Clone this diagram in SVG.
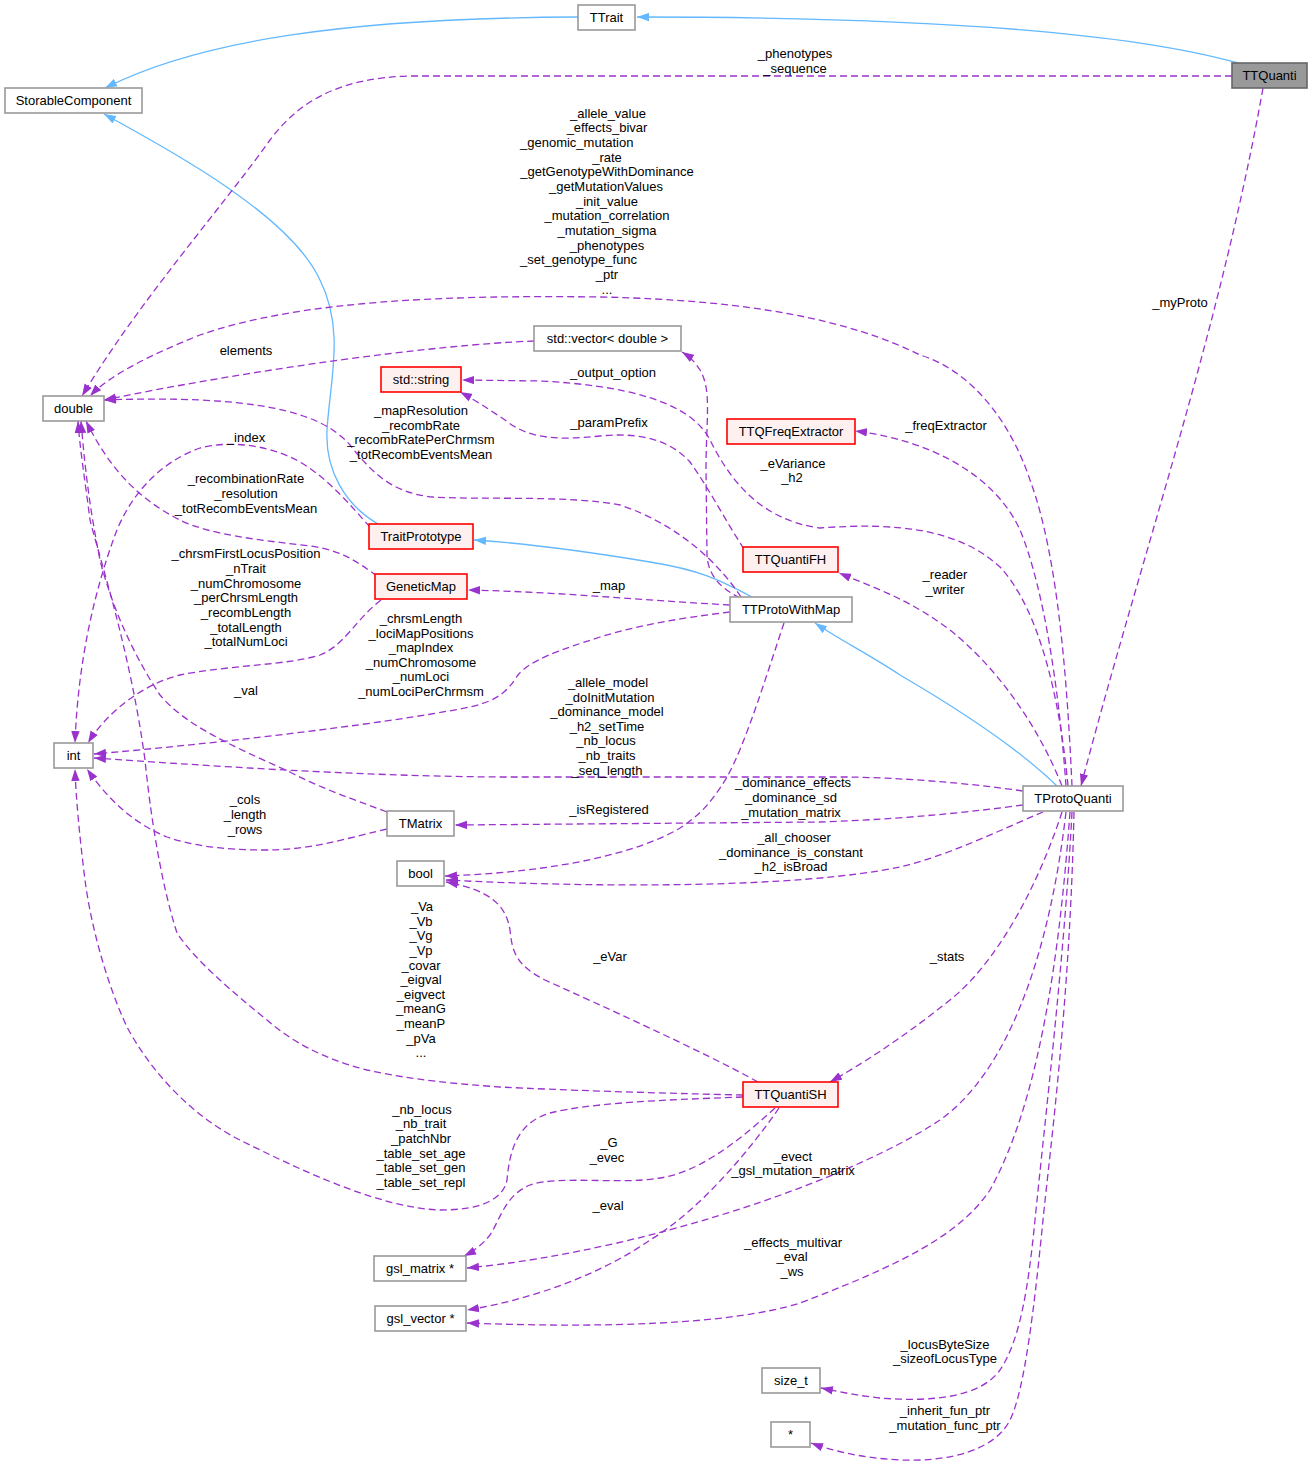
<svg xmlns="http://www.w3.org/2000/svg" width="1313" height="1467" viewBox="0 0 1313 1467">
<style>
  text { font-family: "Liberation Sans", Arial, sans-serif; font-size: 13px; fill: #000; }
  .node text, .lbl { text-anchor: middle; }
  .st { text-anchor: start; }
  .n rect { fill: #ffffff; stroke: #999999; stroke-width: 1.6; }
  .r rect { fill: #fff0f0; stroke: #ff0000; stroke-width: 1.6; }
  .g rect { fill: #999999; stroke: #666666; stroke-width: 1.6; }
  .e { fill: none; stroke: #9a32cd; stroke-width: 1.3; stroke-dasharray: 7,4; marker-end: url(#ap); }
  .b { fill: none; stroke: #63b8ff; stroke-width: 1.3; marker-end: url(#ab); }
</style>
<defs>
  <marker id="ap" viewBox="0 0 12 9" refX="12" refY="4.5" markerWidth="12" markerHeight="9" markerUnits="userSpaceOnUse" orient="auto">
    <path d="M0,0.3 L12,4.5 L0,8.7 z" fill="#9a32cd" stroke="none"/>
  </marker>
  <marker id="ab" viewBox="0 0 12 9" refX="12" refY="4.5" markerWidth="12" markerHeight="9" markerUnits="userSpaceOnUse" orient="auto">
    <path d="M0,0.3 L12,4.5 L0,8.7 z" fill="#63b8ff" stroke="none"/>
  </marker>
</defs>
<rect x="0" y="0" width="1313" height="1467" fill="#ffffff"/>

<g id="connectors">
  <!-- inheritance -->
  <path class="b" d="M1238,63 C1120,30 900,17 637,17"/>
  <path class="b" d="M578,17 C350,18 200,40 105,88"/>
  <path class="b" d="M378,524 C345,505 325,470 327,430 C330,380 345,330 320,280 C290,215 170,150 104,114"/>
  <path class="b" d="M752,597 C720,580 700,570 650,562 C590,552 520,543 474,540"/>
  <path class="b" d="M1057,786 C1020,750 960,710 900,675 C870,655 840,640 815,623"/>

  <g id="e_phen">
    <path class="e" d="M1232,76 L410,76 C340,78 300,100 270,140 C220,210 140,300 82,396"/>
    <text class="lbl" x="795" y="57.5">_phenotypes</text>
    <text class="lbl" x="795" y="72.5">_sequence</text>
  </g>
  <g id="e_myproto">
    <path class="e" d="M1263,88 C1220,330 1140,560 1081,786"/>
    <text class="lbl" x="1180" y="306.5">_myProto</text>
  </g>
  <g id="e_big">
    <path class="e" d="M1072,786 C1068,700 1060,560 1030,480 C1010,420 970,370 920,355 C850,320 750,300 600,297 C450,295 300,300 200,335 C150,355 110,375 90,396"/>
    <text class="lbl" x="608" y="117.5">_allele_value</text>
    <text class="lbl" x="607" y="132.2">_effects_bivar</text>
    <text class="st" x="520" y="146.8">_genomic_mutation</text>
    <text class="lbl" x="607" y="161.5">_rate</text>
    <text class="lbl" x="607" y="176.2">_getGenotypeWithDominance</text>
    <text class="lbl" x="606" y="190.8">_getMutationValues</text>
    <text class="lbl" x="607" y="205.5">_init_value</text>
    <text class="lbl" x="607" y="220.2">_mutation_correlation</text>
    <text class="lbl" x="607" y="234.8">_mutation_sigma</text>
    <text class="lbl" x="607" y="249.5">_phenotypes</text>
    <text class="st" x="520" y="264.2">_set_genotype_func</text>
    <text class="lbl" x="607" y="278.8">_ptr</text>
    <text class="lbl" x="607" y="293.5">...</text>
  </g>
  <g id="e_elements">
    <path class="e" d="M534,341 C430,345 250,370 104,400"/>
    <text class="lbl" x="246" y="354.5">elements</text>
  </g>
  <g id="e_output">
    <path class="e" d="M1068,786 C1060,700 1040,610 1000,567 C960,530 900,522 820,528 C760,520 730,480 710,440 C690,400 620,385 540,381 L462,380"/>
    <text class="lbl" x="613" y="376.5">_output_option</text>
  </g>
  <g id="e_mapres">
    <path class="e" d="M741,597 C720,565 680,525 620,505 C570,495 480,500 433,497 C390,493 370,470 350,445 C320,410 250,395 104,400"/>
    <text class="lbl" x="421" y="414.5">_mapResolution</text>
    <text class="lbl" x="421" y="429.5">_recombRate</text>
    <text class="lbl" x="421" y="444">_recombRatePerChrmsm</text>
    <text class="lbl" x="421" y="458.5">_totRecombEventsMean</text>
  </g>
  <g id="e_param">
    <path class="e" d="M744,549 C725,520 710,490 690,462 C670,440 640,432 600,436 C560,440 530,440 505,420 C490,410 475,400 460,392"/>
    <text class="lbl" x="609" y="427">_paramPrefix</text>
  </g>
  <g id="e_vec">
    <path class="e" d="M740,598 C720,588 708,575 707,555 L706,470 C706,420 712,390 700,370 C695,362 690,357 682,352"/>
    <text class="lbl" x="793" y="467.5">_eVariance</text>
    <text class="lbl" x="792" y="482">_h2</text>
  </g>
  <g id="e_freq">
    <path class="e" d="M1066,786 C1060,700 1045,590 1020,530 C995,475 930,440 855,431"/>
    <text class="lbl" x="946" y="430">_freqExtractor</text>
  </g>
  <g id="e_index">
    <path class="e" d="M370,527 C350,505 330,480 300,462 C270,445 230,440 200,448 C160,462 130,495 115,535 C95,590 78,660 75,743"/>
    <text class="lbl" x="246" y="442">_index</text>
  </g>
  <g id="e_recomb">
    <path class="e" d="M377,576 C355,560 340,550 310,546 C260,540 210,535 180,520 C140,500 110,470 86,421"/>
    <text class="lbl" x="246" y="483">_recombinationRate</text>
    <text class="lbl" x="246" y="497.5">_resolution</text>
    <text class="lbl" x="246" y="512.5">_totRecombEventsMean</text>
  </g>
  <g id="e_readwrite">
    <path class="e" d="M1062,786 C1040,730 1000,670 950,630 C910,600 880,590 839,573"/>
    <text class="lbl" x="945" y="579">_reader</text>
    <text class="lbl" x="945" y="593.5">_writer</text>
  </g>
  <g id="e_map">
    <path class="e" d="M730,605 C640,600 560,592 468,590"/>
    <text class="lbl" x="609" y="590">_map</text>
  </g>
  <g id="e_gmint">
    <path class="e" d="M381,600 C355,620 345,645 320,655 C290,665 230,665 180,675 C140,685 105,715 88,743"/>
    <text class="lbl" x="246" y="557.5">_chrsmFirstLocusPosition</text>
    <text class="lbl" x="246" y="572.5">_nTrait</text>
    <text class="lbl" x="246" y="587.5">_numChromosome</text>
    <text class="lbl" x="246" y="601.5">_perChrsmLength</text>
    <text class="lbl" x="246" y="616.5">_recombLength</text>
    <text class="lbl" x="246" y="631.5">_totalLength</text>
    <text class="lbl" x="246" y="645.5">_totalNumLoci</text>
  </g>
  <g id="e_pwmint">
    <path class="e" d="M730,612 C680,618 640,625 600,637 C560,650 530,660 518,675 C508,690 500,700 470,707 C380,725 200,745 94,754"/>
    <text class="lbl" x="421" y="622.5">_chrsmLength</text>
    <text class="lbl" x="421" y="637.5">_lociMapPositions</text>
    <text class="lbl" x="421" y="651.5">_mapIndex</text>
    <text class="lbl" x="421" y="666.5">_numChromosome</text>
    <text class="lbl" x="421" y="680.5">_numLoci</text>
    <text class="lbl" x="421" y="695.5">_numLociPerChrmsm</text>
  </g>
  <g id="e_val">
    <path class="e" d="M387,812 C350,798 320,788 290,772 C230,745 185,725 160,695 C130,650 110,600 100,560 C90,510 85,470 81,421"/>
    <text class="lbl" x="246" y="694.5">_val</text>
  </g>
  <g id="e_pqint">
    <path class="e" d="M1023,791 C960,782 900,778 850,777 L500,777 C350,776 200,765 94,758"/>
    <text class="lbl" x="608" y="686.5">_allele_model</text>
    <text class="lbl" x="610" y="701.5">_doInitMutation</text>
    <text class="lbl" x="607" y="715.5">_dominance_model</text>
    <text class="lbl" x="607" y="730.5">_h2_setTime</text>
    <text class="lbl" x="606" y="744.5">_nb_locus</text>
    <text class="lbl" x="607" y="759.5">_nb_traits</text>
    <text class="lbl" x="607" y="774.5">_seq_length</text>
  </g>
  <g id="e_pqtm">
    <path class="e" d="M1023,805 C950,815 880,820 820,822 L455,825"/>
    <text class="lbl" x="793" y="786.5">_dominance_effects</text>
    <text class="lbl" x="791" y="801.5">_dominance_sd</text>
    <text class="lbl" x="791" y="816.5">_mutation_matrix</text>
  </g>
  <g id="e_isreg">
    <path class="e" d="M784,623 C765,680 745,745 727,777 C712,802 700,815 680,828 C640,852 560,872 445,876"/>
    <text class="lbl" x="609" y="813.5">_isRegistered</text>
  </g>
  <g id="e_cols">
    <path class="e" d="M387,829 C340,840 310,850 265,850 C220,850 190,845 167,837 C130,822 105,795 87,769"/>
    <text class="lbl" x="245" y="803.5">_cols</text>
    <text class="lbl" x="245" y="818.5">_length</text>
    <text class="lbl" x="245" y="833.5">_rows</text>
  </g>
  <g id="e_pqbool">
    <path class="e" d="M1043,812 C1000,830 950,855 900,867 C800,888 600,888 446,880"/>
    <text class="lbl" x="794" y="841.5">_all_chooser</text>
    <text class="lbl" x="791" y="856.5">_dominance_is_constant</text>
    <text class="lbl" x="791" y="870.5">_h2_isBroad</text>
  </g>
  <g id="e_evar">
    <path class="e" d="M758,1082 C700,1050 600,1005 545,980 C515,965 512,950 510,930 C506,905 490,890 446,882"/>
    <text class="lbl" x="610" y="961">_eVar</text>
  </g>
  <g id="e_shdouble">
    <path class="e" d="M743,1095 C650,1093 560,1090 500,1087 C430,1082 400,1077 367,1070 C320,1058 290,1040 267,1020 C230,990 195,960 177,933 C160,880 150,810 145,760 C130,650 100,560 90,520 C85,480 80,450 78,421"/>
    <text class="lbl" x="422" y="910.5">_Va</text>
    <text class="lbl" x="421" y="925.5">_Vb</text>
    <text class="lbl" x="421" y="939.5">_Vg</text>
    <text class="lbl" x="421" y="954.5">_Vp</text>
    <text class="lbl" x="421" y="969.5">_covar</text>
    <text class="lbl" x="421" y="983.5">_eigval</text>
    <text class="lbl" x="421" y="998.5">_eigvect</text>
    <text class="lbl" x="421" y="1012.5">_meanG</text>
    <text class="lbl" x="421" y="1027.5">_meanP</text>
    <text class="lbl" x="421" y="1042.5">_pVa</text>
    <text class="lbl" x="421" y="1056.5">...</text>
  </g>
  <g id="e_stats">
    <path class="e" d="M1062,812 C1040,880 1000,960 950,1000 C900,1040 860,1065 830,1082"/>
    <text class="lbl" x="947" y="961">_stats</text>
  </g>
  <g id="e_shint">
    <path class="e" d="M743,1097 C660,1100 590,1103 550,1113 C520,1122 510,1145 507,1180 C503,1200 480,1210 440,1210 C380,1208 300,1170 240,1140 C190,1115 150,1070 127,1027 C105,980 90,920 85,880 C80,840 76,800 75,769"/>
    <text class="lbl" x="422" y="1113.5">_nb_locus</text>
    <text class="lbl" x="421" y="1127.5">_nb_trait</text>
    <text class="lbl" x="421" y="1142.5">_patchNbr</text>
    <text class="lbl" x="421" y="1157.5">_table_set_age</text>
    <text class="lbl" x="421" y="1171.5">_table_set_gen</text>
    <text class="lbl" x="421" y="1186.5">_table_set_repl</text>
  </g>
  <g id="e_gevec">
    <path class="e" d="M775,1108 C740,1140 700,1172 660,1178 C620,1185 560,1175 530,1185 C505,1195 500,1220 490,1235 C482,1245 474,1251 464,1256"/>
    <text class="lbl" x="609" y="1146.5">_G</text>
    <text class="lbl" x="607" y="1161.5">_evec</text>
  </g>
  <g id="e_shvec">
    <path class="e" d="M779,1108 C750,1150 700,1210 650,1240 C600,1275 530,1300 467,1310"/>
    <text class="lbl" x="608" y="1209.5">_eval</text>
  </g>
  <g id="e_pqgslm">
    <path class="e" d="M1066,812 C1050,950 1010,1070 940,1120 C880,1160 760,1210 617,1243 C560,1256 510,1264 467,1268"/>
    <text class="lbl" x="793" y="1161">_evect</text>
    <text class="lbl" x="793" y="1175">_gsl_mutation_matrix</text>
  </g>
  <g id="e_pqgslv">
    <path class="e" d="M1070,812 C1060,950 1040,1100 990,1190 C960,1235 900,1265 800,1303 C730,1325 600,1328 467,1323"/>
    <text class="lbl" x="793" y="1246.5">_effects_multivar</text>
    <text class="lbl" x="792" y="1261">_eval</text>
    <text class="lbl" x="792" y="1275.5">_ws</text>
  </g>
  <g id="e_size">
    <path class="e" d="M1072,812 C1065,950 1045,1120 1035,1220 C1028,1290 1020,1340 1000,1370 C980,1398 930,1402 880,1398 C860,1396 840,1392 821,1388"/>
    <text class="lbl" x="945" y="1348.5">_locusByteSize</text>
    <text class="lbl" x="945" y="1363">_sizeofLocusType</text>
  </g>
  <g id="e_ptr">
    <path class="e" d="M1074,812 C1070,1000 1050,1150 1043,1220 C1035,1300 1025,1390 1010,1420 C995,1450 950,1462 900,1460 C860,1458 830,1450 811,1443"/>
    <text class="lbl" x="945" y="1415">_inherit_fun_ptr</text>
    <text class="lbl" x="945" y="1430">_mutation_func_ptr</text>
  </g>
</g>

<g id="TTrait" class="node n"><rect x="578" y="5" width="57" height="25"/><text x="606.5" y="22">TTrait</text></g>
<g id="TTQuanti" class="node g"><rect x="1232" y="63" width="75" height="25"/><text x="1269.5" y="80">TTQuanti</text></g>
<g id="StorableComponent" class="node n"><rect x="5" y="88" width="137" height="25"/><text x="73.5" y="105">StorableComponent</text></g>
<g id="double" class="node n"><rect x="43" y="396" width="61" height="25"/><text x="73.5" y="413">double</text></g>
<g id="vector_double" class="node n"><rect x="534" y="326" width="147" height="25"/><text x="607.5" y="343">std::vector&lt; double &gt;</text></g>
<g id="std_string" class="node r"><rect x="381" y="367" width="80" height="25"/><text x="421" y="384">std::string</text></g>
<g id="TTQFreqExtractor" class="node r"><rect x="727" y="419" width="128" height="25"/><text x="791" y="436">TTQFreqExtractor</text></g>
<g id="TraitPrototype" class="node r"><rect x="369" y="524" width="104" height="25"/><text x="421" y="541">TraitPrototype</text></g>
<g id="TTQuantiFH" class="node r"><rect x="743" y="547" width="95" height="25"/><text x="790.5" y="564">TTQuantiFH</text></g>
<g id="GeneticMap" class="node r"><rect x="375" y="574" width="92" height="25"/><text x="421" y="591">GeneticMap</text></g>
<g id="TTProtoWithMap" class="node n"><rect x="730" y="597" width="122" height="25"/><text x="791" y="614">TTProtoWithMap</text></g>
<g id="int" class="node n"><rect x="54" y="743" width="39" height="25"/><text x="73.5" y="760">int</text></g>
<g id="TProtoQuanti" class="node n"><rect x="1023" y="786" width="100" height="25"/><text x="1073" y="803">TProtoQuanti</text></g>
<g id="TMatrix" class="node n"><rect x="387" y="811" width="67" height="25"/><text x="420.5" y="828">TMatrix</text></g>
<g id="bool" class="node n"><rect x="397" y="861" width="47" height="25"/><text x="420.5" y="878">bool</text></g>
<g id="TTQuantiSH" class="node r"><rect x="743" y="1082" width="95" height="25"/><text x="790.5" y="1099">TTQuantiSH</text></g>
<g id="gsl_matrix" class="node n"><rect x="374" y="1256" width="92" height="25"/><text x="420" y="1273">gsl_matrix *</text></g>
<g id="gsl_vector" class="node n"><rect x="375" y="1306" width="91" height="25"/><text x="420.5" y="1323">gsl_vector *</text></g>
<g id="size_t" class="node n"><rect x="762" y="1368" width="58" height="25"/><text x="791" y="1385">size_t</text></g>
<g id="ptr" class="node n"><rect x="771" y="1422" width="39" height="25"/><text x="790.5" y="1439">*</text></g>
</svg>
